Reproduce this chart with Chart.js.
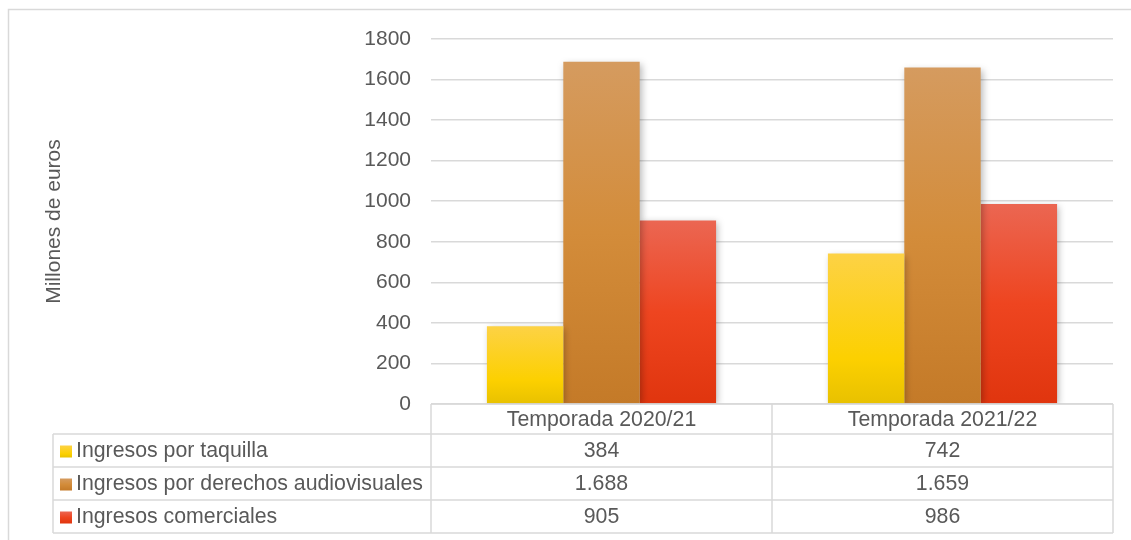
<!DOCTYPE html>
<html>
<head>
<meta charset="utf-8">
<script src="https://cdn.jsdelivr.net/npm/chart.js@4/dist/chart.umd.min.js"></script>
<style>
  body { margin: 0; background: #fff; }
  #wrap { width: 1131px; height: 540px; }
</style>
</head>
<body>
<div id="wrap"><canvas id="myChart" width="1131" height="540"></canvas></div>
<script>
// Data
const categories = ['Temporada 2020/21', 'Temporada 2021/22'];
const seriesNames = ['Ingresos por taquilla', 'Ingresos por derechos audiovisuales', 'Ingresos comerciales'];
const taquilla = [384, 742];
const audiovisuales = [1688, 1659];
const comerciales = [905, 986];

// gradient stops per series (top -> bottom)
const gradYellow = [[0, '#FDD245'], [0.7, '#FCD000'], [1, '#E8C100']];
const gradBrown = [[0, '#D59B5F'], [0.5, '#D38C3A'], [1, '#C47A28']];
const gradRed = [[0, '#EB6652'], [0.5, '#EE4520'], [1, '#E0350E']];

const FONT = "'Liberation Sans', Arial, sans-serif";
const TEXT = '#595959';
const LINE = '#d9d9d9';

// 1688 -> "1.688"
function fmt(n) {
  return String(n).replace(/\B(?=(\d{3})+(?!\d))/g, '.');
}

function barGradient(stops) {
  return (c) => {
    const chart = c.chart;
    if (!chart.chartArea || c.raw === undefined) return stops[1][1];
    const y = chart.scales.y;
    const top = y.getPixelForValue(c.raw);
    const bot = y.getPixelForValue(0);
    const g = chart.ctx.createLinearGradient(0, top, 0, bot);
    stops.forEach(s => g.addColorStop(s[0], s[1]));
    return g;
  };
}

// outer frame, like the Excel chart border
const framePlugin = {
  id: 'frame',
  beforeDraw(chart) {
    const ctx = chart.ctx;
    ctx.save();
    ctx.strokeStyle = LINE;
    ctx.lineWidth = 1.5;
    ctx.beginPath();
    ctx.moveTo(8.5, chart.height);
    ctx.lineTo(8.5, 9.5);
    ctx.lineTo(chart.width, 9.5);
    ctx.stroke();
    ctx.restore();
  }
};

// soft shadow under the bars
const shadowPlugin = {
  id: 'barShadow',
  beforeDatasetsDraw(chart) {
    const ctx = chart.ctx;
    ctx.save();
    ctx.shadowColor = 'rgba(0,0,0,0.28)';
    ctx.shadowBlur = 7;
    ctx.shadowOffsetX = 2;
    ctx.shadowOffsetY = 2;
  },
  afterDatasetsDraw(chart) {
    chart.ctx.restore();
  }
};

// data table under the plot
const tablePlugin = {
  id: 'dataTable',
  afterDraw(chart) {
    const ctx = chart.ctx;
    const area = chart.chartArea;
    const xs = chart.scales.x;
    const half = (area.right - area.left) / categories.length / 2;
    const colEdges = [area.left];
    categories.forEach((c, i) => colEdges.push(xs.getPixelForValue(i) + half));
    const tableLeft = 53;
    const headTop = area.bottom;
    const headH = 30;
    const rowH = 33;
    const rowsTop = headTop + headH;
    const bottom = rowsTop + rowH * seriesNames.length;

    ctx.save();
    ctx.strokeStyle = LINE;
    ctx.lineWidth = 1.5;
    ctx.beginPath();
    // header top
    ctx.moveTo(area.left, headTop); ctx.lineTo(area.right, headTop);
    // row lines
    for (let r = 0; r <= seriesNames.length; r++) {
      const y = rowsTop + r * rowH;
      ctx.moveTo(tableLeft, y); ctx.lineTo(area.right, y);
    }
    // vertical lines
    ctx.moveTo(tableLeft, rowsTop); ctx.lineTo(tableLeft, bottom);
    colEdges.forEach(x => { ctx.moveTo(x, headTop); ctx.lineTo(x, bottom); });
    ctx.stroke();

    ctx.fillStyle = TEXT;
    ctx.font = '21.3px ' + FONT;
    ctx.textBaseline = 'middle';
    ctx.textAlign = 'center';
    categories.forEach((c, i) => {
      ctx.fillText(c, xs.getPixelForValue(i), headTop + headH / 2 + 1);
    });

    chart.data.datasets.forEach((ds, r) => {
      const cy = rowsTop + r * rowH + rowH / 2 + 1;
      // legend key
      const stops = ds.keyStops;
      const g = ctx.createLinearGradient(0, cy - 6, 0, cy + 6);
      stops.forEach(s => g.addColorStop(s[0], s[1]));
      ctx.fillStyle = g;
      ctx.fillRect(60, cy - 6, 12, 12);
      ctx.fillStyle = TEXT;
      ctx.textAlign = 'left';
      ctx.fillText(ds.label, 76, cy);
      ctx.textAlign = 'center';
      ds.data.forEach((v, i) => {
        ctx.fillText(fmt(v), xs.getPixelForValue(i), cy);
      });
    });
    ctx.restore();
  }
};

const ctx = document.getElementById('myChart').getContext('2d');

const chart = new Chart(ctx, {
  type: 'bar',
  data: {
    labels: categories,
    datasets: [
      { label: seriesNames[0], data: taquilla, backgroundColor: barGradient(gradYellow), keyStops: gradYellow },
      { label: seriesNames[1], data: audiovisuales, backgroundColor: barGradient(gradBrown), keyStops: gradBrown },
      { label: seriesNames[2], data: comerciales, backgroundColor: barGradient(gradRed), keyStops: gradRed }
    ]
  },
  options: {
    responsive: false,
    animation: false,
    devicePixelRatio: 1,
    categoryPercentage: 0.672,
    barPercentage: 1,
    layout: { padding: { top: 39, right: 18, bottom: 136, left: 0 } },
    plugins: {
      legend: { display: false },
      tooltip: { enabled: false }
    },
    scales: {
      x: { display: false },
      y: {
        min: 0,
        max: 1800,
        afterFit: (s) => { s.width = 431; },
        border: { display: false },
        grid: { color: LINE, lineWidth: 1.5, drawTicks: false },
        ticks: {
          stepSize: 200,
          padding: 20,
          color: TEXT,
          font: { family: FONT, size: 21 },
          callback: (v) => String(v)
        },
        title: {
          display: true,
          text: 'Millones de euros',
          color: TEXT,
          font: { family: FONT, size: 21 },
          padding: { top: 42, bottom: 0 }
        }
      }
    }
  },
  plugins: [framePlugin, shadowPlugin, tablePlugin]
});
</script>
</body>
</html>
